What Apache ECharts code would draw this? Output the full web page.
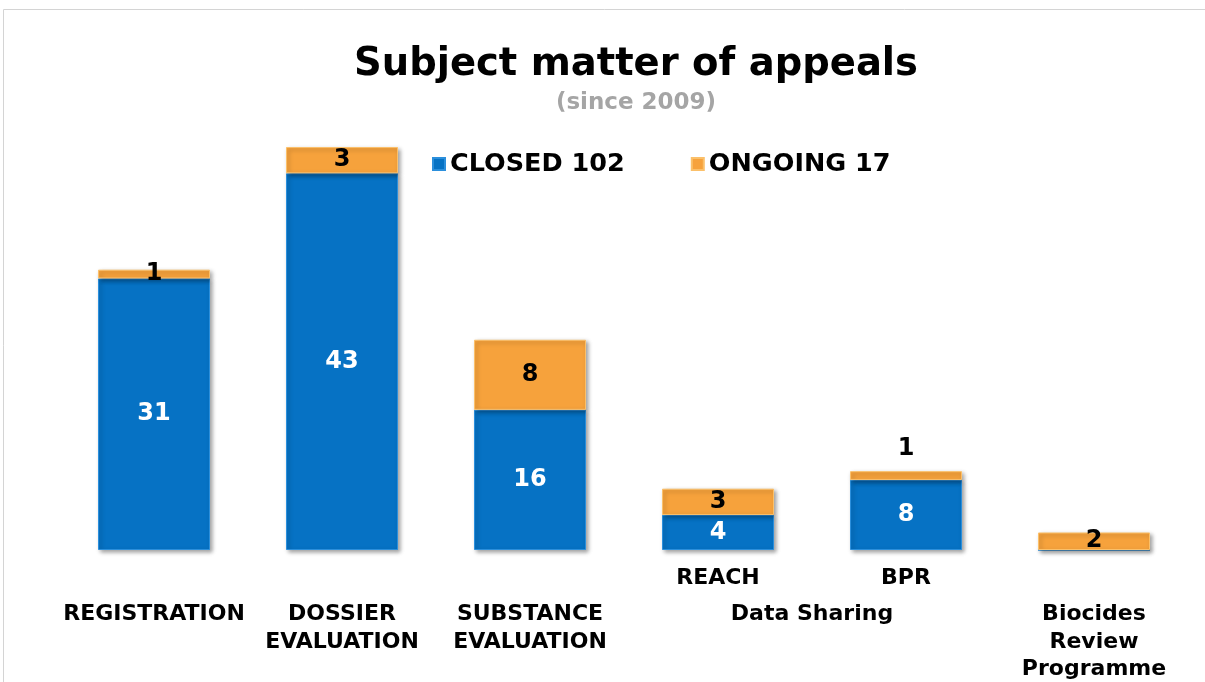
<!DOCTYPE html>
<html>
<head>
<meta charset="utf-8">
<script src="https://cdn.jsdelivr.net/npm/echarts@6/dist/echarts.min.js"></script>
<style>
  html, body { margin: 0; padding: 0; background: #fff; }
  #chart { width: 1205px; height: 682px; }
</style>
</head>
<body>
<div id="chart"></div>
<script>
// categories and values
const categories = ['REGISTRATION', 'DOSSIER\nEVALUATION', 'SUBSTANCE\nEVALUATION', 'REACH', 'BPR', 'Biocides\nReview\nProgramme'];
const closed = [31, 43, 16, 4, 8, 0];
const ongoing = [1, 3, 8, 3, 1, 2];
const seriesNames = ['CLOSED 102', 'ONGOING 17'];
const groupLabel = 'Data Sharing';
const groupMembers = ['REACH', 'BPR'];

const FONT = '"DejaVu Sans", Verdana, sans-serif';
const BLUE = '#0672c4';
const ORANGE = '#f6a23c';

const chart = echarts.init(document.getElementById('chart'));

// the small orange 1 on BPR sits above the bar
const ongoingData = ongoing.map((v, i) => {
  if (categories[i] === 'BPR') {
    return { value: v, label: { position: 'top', distance: 10 } };
  }
  return v;
});

const shadow = {
  shadowColor: 'rgba(0,0,0,0.35)',
  shadowBlur: 4,
  shadowOffsetX: 2,
  shadowOffsetY: 2
};

const option = {
  backgroundColor: '#fff',
  animation: false,
  title: [
    {
      text: 'Subject matter of appeals',
      left: 631, top: 40, textAlign: 'center',
      textStyle: { fontFamily: FONT, fontWeight: 'bold', fontSize: 38.5, color: '#000' }
    },
    {
      text: '(since 2009)',
      left: 631, top: 87, textAlign: 'center',
      textStyle: { fontFamily: FONT, fontWeight: 'bold', fontSize: 23, color: '#a5a5a5' }
    }
  ],
  legend: {
    left: 427, top: 146,
    itemWidth: 12, itemHeight: 12, itemGap: 66,
    icon: 'rect',
    textStyle: { fontFamily: FONT, fontWeight: 'bold', fontSize: 25.5, color: '#000' },
    data: seriesNames
  },
  grid: { left: 60, right: 17, top: 112, bottom: 132 },
  xAxis: {
    type: 'category',
    data: categories,
    axisLine: { show: false },
    axisTick: { show: false },
    axisLabel: {
      interval: 0,
      margin: 18,
      fontFamily: FONT, fontWeight: 'bold', fontSize: 22, color: '#000',
      formatter: function (v) {
        if (groupMembers.indexOf(v) >= 0) return '{s|' + v + '}';
        return '{gap| }\n' + v.split('\n').map(l => '{b|' + l + '}').join('\n');
      },
      rich: {
        s: { fontFamily: FONT, fontWeight: 'bold', fontSize: 22, lineHeight: 20, color: '#000' },
        gap: { fontSize: 2, lineHeight: 33 },
        b: { fontFamily: FONT, fontWeight: 'bold', fontSize: 22, lineHeight: 27.5, color: '#000' }
      }
    }
  },
  yAxis: { type: 'value', min: 0, max: 50, show: false, splitLine: { show: false } },
  series: [
    {
      name: seriesNames[0],
      type: 'bar',
      stack: 'a',
      barWidth: 112,
      data: closed,
      itemStyle: Object.assign({ color: BLUE, borderColor: '#2b8fdc', borderWidth: 1 }, shadow),
      label: {
        show: true, position: 'inside',
        fontFamily: FONT, fontWeight: 'bold', fontSize: 24, color: '#fff',
        formatter: p => (p.value ? String(p.value) : '')
      }
    },
    {
      name: seriesNames[1],
      type: 'bar',
      stack: 'a',
      barWidth: 112,
      data: ongoingData,
      itemStyle: Object.assign({ color: ORANGE, borderColor: '#fbc06a', borderWidth: 1 }, shadow),
      label: {
        show: true, position: 'inside',
        fontFamily: FONT, fontWeight: 'bold', fontSize: 24, color: '#000',
        formatter: p => (p.value ? String(p.value) : '')
      }
    }
  ]
};

chart.setOption(option);

// group label centred under REACH / BPR, plus the thin frame at the top-left
const x1 = chart.convertToPixel({ xAxisIndex: 0 }, groupMembers[0]);
const x2 = chart.convertToPixel({ xAxisIndex: 0 }, groupMembers[1]);
chart.setOption({
  graphic: [
    {
      type: 'text',
      x: (x1 + x2) / 2, y: 614,
      style: {
        text: groupLabel,
        align: 'center', verticalAlign: 'middle',
        font: 'bold 22px ' + FONT, fill: '#000'
      }
    },
    {
      type: 'polyline',
      shape: { points: [[3.5, 682], [3.5, 9.5], [1205, 9.5]] },
      style: { stroke: '#d4d4d4', lineWidth: 1, fill: null },
      silent: true
    }
  ]
});
</script>
</body>
</html>
